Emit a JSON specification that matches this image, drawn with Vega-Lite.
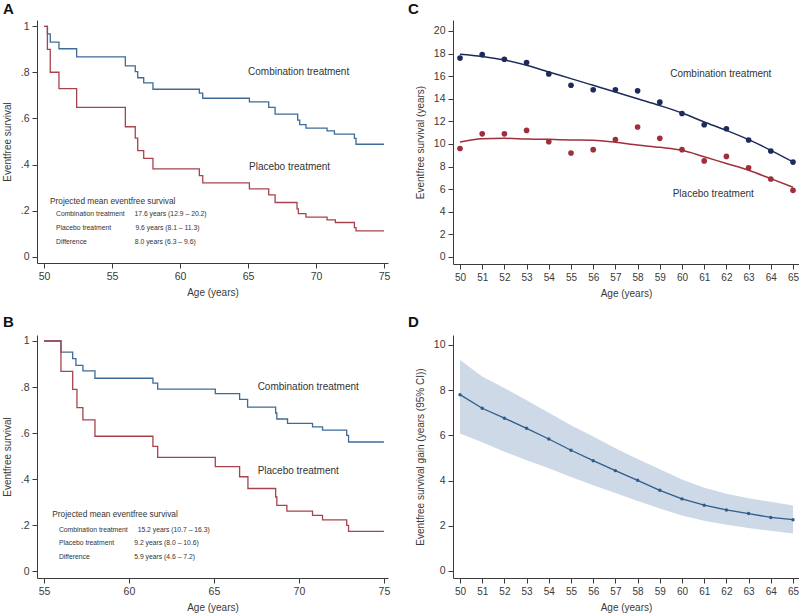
{
  "$schema": "https://vega.github.io/schema/vega-lite/v6.json",
  "background": "white",
  "padding": {"left": 2, "top": 2, "right": 0, "bottom": 0},
  "columns": 2,
  "spacing": {"row": 71, "column": 65},
  "bounds": "flush",
  "resolve": {"scale": {"color": "independent"}},
  "config": {
    "font": "Liberation Sans",
    "view": {"stroke": null},
    "axis": {"grid": false, "domainColor": "#3a3a3a", "tickColor": "#3a3a3a", "labelColor": "#3a3a3a", "titleColor": "#3a3a3a", "labelFontSize": 10.5, "titleFontSize": 10, "titleFontWeight": "normal", "tickSize": 5, "labelPadding": 3, "labelOverlap": false, "labelFont": "Liberation Sans", "titleFont": "Liberation Sans"},
    "axisY": {"titlePadding": 8},
    "axisX": {"titlePadding": 6},
    "title": {"anchor": "start", "frame": "group", "fontSize": 15, "fontWeight": "bold", "color": "#111111", "font": "Liberation Sans"}
  },
  "datasets": {
    "kmA": [
      {"age": 50, "surv": 1, "arm": "Combination"},
      {"age": 50.25, "surv": 0.968, "arm": "Combination"},
      {"age": 50.46, "surv": 0.932, "arm": "Combination"},
      {"age": 51.1, "surv": 0.903, "arm": "Combination"},
      {"age": 52.4, "surv": 0.868, "arm": "Combination"},
      {"age": 55.98, "surv": 0.829, "arm": "Combination"},
      {"age": 56.71, "surv": 0.804, "arm": "Combination"},
      {"age": 56.89, "surv": 0.777, "arm": "Combination"},
      {"age": 57.33, "surv": 0.755, "arm": "Combination"},
      {"age": 58.01, "surv": 0.727, "arm": "Combination"},
      {"age": 61.42, "surv": 0.71, "arm": "Combination"},
      {"age": 61.67, "surv": 0.688, "arm": "Combination"},
      {"age": 65.1, "surv": 0.672, "arm": "Combination"},
      {"age": 66.52, "surv": 0.648, "arm": "Combination"},
      {"age": 66.99, "surv": 0.619, "arm": "Combination"},
      {"age": 68.65, "surv": 0.593, "arm": "Combination"},
      {"age": 68.8, "surv": 0.573, "arm": "Combination"},
      {"age": 69.26, "surv": 0.558, "arm": "Combination"},
      {"age": 70.81, "surv": 0.546, "arm": "Combination"},
      {"age": 71.35, "surv": 0.532, "arm": "Combination"},
      {"age": 72.82, "surv": 0.514, "arm": "Combination"},
      {"age": 72.94, "surv": 0.488, "arm": "Combination"},
      {"age": 75, "surv": 0.488, "arm": "Combination"},
      {"age": 50, "surv": 1, "arm": "Placebo"},
      {"age": 50.25, "surv": 0.9, "arm": "Placebo"},
      {"age": 50.46, "surv": 0.801, "arm": "Placebo"},
      {"age": 51.1, "surv": 0.73, "arm": "Placebo"},
      {"age": 52.4, "surv": 0.648, "arm": "Placebo"},
      {"age": 55.98, "surv": 0.564, "arm": "Placebo"},
      {"age": 56.71, "surv": 0.515, "arm": "Placebo"},
      {"age": 56.89, "surv": 0.46, "arm": "Placebo"},
      {"age": 57.33, "surv": 0.427, "arm": "Placebo"},
      {"age": 58.01, "surv": 0.381, "arm": "Placebo"},
      {"age": 61.42, "surv": 0.352, "arm": "Placebo"},
      {"age": 61.67, "surv": 0.32, "arm": "Placebo"},
      {"age": 65.1, "surv": 0.294, "arm": "Placebo"},
      {"age": 66.52, "surv": 0.268, "arm": "Placebo"},
      {"age": 66.99, "surv": 0.235, "arm": "Placebo"},
      {"age": 68.6, "surv": 0.207, "arm": "Placebo"},
      {"age": 68.7, "surv": 0.187, "arm": "Placebo"},
      {"age": 69.26, "surv": 0.171, "arm": "Placebo"},
      {"age": 70.81, "surv": 0.159, "arm": "Placebo"},
      {"age": 71.42, "surv": 0.148, "arm": "Placebo"},
      {"age": 72.82, "surv": 0.126, "arm": "Placebo"},
      {"age": 72.94, "surv": 0.112, "arm": "Placebo"},
      {"age": 75, "surv": 0.112, "arm": "Placebo"}
    ],
    "kmB": [
      {"age": 55, "surv": 1, "arm": "Combination"},
      {"age": 56.0, "surv": 0.952, "arm": "Combination"},
      {"age": 56.69, "surv": 0.923, "arm": "Combination"},
      {"age": 56.88, "surv": 0.894, "arm": "Combination"},
      {"age": 57.29, "surv": 0.87, "arm": "Combination"},
      {"age": 58.0, "surv": 0.838, "arm": "Combination"},
      {"age": 61.41, "surv": 0.817, "arm": "Combination"},
      {"age": 61.69, "surv": 0.791, "arm": "Combination"},
      {"age": 65.08, "surv": 0.771, "arm": "Combination"},
      {"age": 66.51, "surv": 0.746, "arm": "Combination"},
      {"age": 66.98, "surv": 0.713, "arm": "Combination"},
      {"age": 68.63, "surv": 0.687, "arm": "Combination"},
      {"age": 68.7, "surv": 0.661, "arm": "Combination"},
      {"age": 69.33, "surv": 0.642, "arm": "Combination"},
      {"age": 70.8, "surv": 0.627, "arm": "Combination"},
      {"age": 71.39, "surv": 0.613, "arm": "Combination"},
      {"age": 72.81, "surv": 0.59, "arm": "Combination"},
      {"age": 72.92, "surv": 0.561, "arm": "Combination"},
      {"age": 75, "surv": 0.561, "arm": "Combination"},
      {"age": 55, "surv": 1, "arm": "Placebo"},
      {"age": 56.0, "surv": 0.868, "arm": "Placebo"},
      {"age": 56.69, "surv": 0.79, "arm": "Placebo"},
      {"age": 56.94, "surv": 0.71, "arm": "Placebo"},
      {"age": 57.29, "surv": 0.657, "arm": "Placebo"},
      {"age": 58.0, "surv": 0.586, "arm": "Placebo"},
      {"age": 61.41, "surv": 0.542, "arm": "Placebo"},
      {"age": 61.69, "surv": 0.494, "arm": "Placebo"},
      {"age": 65.08, "surv": 0.454, "arm": "Placebo"},
      {"age": 66.51, "surv": 0.41, "arm": "Placebo"},
      {"age": 67.0, "surv": 0.359, "arm": "Placebo"},
      {"age": 68.63, "surv": 0.322, "arm": "Placebo"},
      {"age": 68.7, "surv": 0.286, "arm": "Placebo"},
      {"age": 69.29, "surv": 0.261, "arm": "Placebo"},
      {"age": 70.8, "surv": 0.242, "arm": "Placebo"},
      {"age": 71.39, "surv": 0.223, "arm": "Placebo"},
      {"age": 72.81, "surv": 0.199, "arm": "Placebo"},
      {"age": 72.92, "surv": 0.173, "arm": "Placebo"},
      {"age": 75, "surv": 0.173, "arm": "Placebo"}
    ],
    "dotsC": [
      {"age": 50, "surv": 17.6, "arm": "Combination"},
      {"age": 51, "surv": 17.9, "arm": "Combination"},
      {"age": 52, "surv": 17.5, "arm": "Combination"},
      {"age": 53, "surv": 17.2, "arm": "Combination"},
      {"age": 54, "surv": 16.2, "arm": "Combination"},
      {"age": 55, "surv": 15.2, "arm": "Combination"},
      {"age": 56, "surv": 14.8, "arm": "Combination"},
      {"age": 57, "surv": 14.8, "arm": "Combination"},
      {"age": 58, "surv": 14.7, "arm": "Combination"},
      {"age": 59, "surv": 13.7, "arm": "Combination"},
      {"age": 60, "surv": 12.7, "arm": "Combination"},
      {"age": 61, "surv": 11.7, "arm": "Combination"},
      {"age": 62, "surv": 11.35, "arm": "Combination"},
      {"age": 63, "surv": 10.35, "arm": "Combination"},
      {"age": 64, "surv": 9.38, "arm": "Combination"},
      {"age": 65, "surv": 8.4, "arm": "Combination"},
      {"age": 50, "surv": 9.6, "arm": "Placebo"},
      {"age": 51, "surv": 10.9, "arm": "Placebo"},
      {"age": 52, "surv": 10.9, "arm": "Placebo"},
      {"age": 53, "surv": 11.2, "arm": "Placebo"},
      {"age": 54, "surv": 10.2, "arm": "Placebo"},
      {"age": 55, "surv": 9.2, "arm": "Placebo"},
      {"age": 56, "surv": 9.5, "arm": "Placebo"},
      {"age": 57, "surv": 10.4, "arm": "Placebo"},
      {"age": 58, "surv": 11.5, "arm": "Placebo"},
      {"age": 59, "surv": 10.5, "arm": "Placebo"},
      {"age": 60, "surv": 9.5, "arm": "Placebo"},
      {"age": 61, "surv": 8.5, "arm": "Placebo"},
      {"age": 62, "surv": 8.9, "arm": "Placebo"},
      {"age": 63, "surv": 7.9, "arm": "Placebo"},
      {"age": 64, "surv": 6.9, "arm": "Placebo"},
      {"age": 65, "surv": 5.9, "arm": "Placebo"}
    ],
    "fitC": [
      {"age": 50, "fit": 17.95, "arm": "Combination"},
      {"age": 51, "fit": 17.75, "arm": "Combination"},
      {"age": 52, "fit": 17.43, "arm": "Combination"},
      {"age": 53, "fit": 16.96, "arm": "Combination"},
      {"age": 54, "fit": 16.37, "arm": "Combination"},
      {"age": 55, "fit": 15.78, "arm": "Combination"},
      {"age": 56, "fit": 15.19, "arm": "Combination"},
      {"age": 57, "fit": 14.6, "arm": "Combination"},
      {"age": 58, "fit": 14.0, "arm": "Combination"},
      {"age": 59, "fit": 13.4, "arm": "Combination"},
      {"age": 60, "fit": 12.74, "arm": "Combination"},
      {"age": 61, "fit": 11.95, "arm": "Combination"},
      {"age": 62, "fit": 11.2, "arm": "Combination"},
      {"age": 63, "fit": 10.38, "arm": "Combination"},
      {"age": 64, "fit": 9.44, "arm": "Combination"},
      {"age": 65, "fit": 8.41, "arm": "Combination"},
      {"age": 50, "fit": 10.18, "arm": "Placebo"},
      {"age": 51, "fit": 10.47, "arm": "Placebo"},
      {"age": 52, "fit": 10.5, "arm": "Placebo"},
      {"age": 53, "fit": 10.44, "arm": "Placebo"},
      {"age": 54, "fit": 10.41, "arm": "Placebo"},
      {"age": 55, "fit": 10.36, "arm": "Placebo"},
      {"age": 56, "fit": 10.33, "arm": "Placebo"},
      {"age": 57, "fit": 10.15, "arm": "Placebo"},
      {"age": 58, "fit": 9.9, "arm": "Placebo"},
      {"age": 59, "fit": 9.7, "arm": "Placebo"},
      {"age": 60, "fit": 9.44, "arm": "Placebo"},
      {"age": 61, "fit": 8.87, "arm": "Placebo"},
      {"age": 62, "fit": 8.27, "arm": "Placebo"},
      {"age": 63, "fit": 7.68, "arm": "Placebo"},
      {"age": 64, "fit": 6.93, "arm": "Placebo"},
      {"age": 65, "fit": 6.17, "arm": "Placebo"}
    ],
    "gainD": [
      {"age": 50, "gain": 7.8, "lo": 6.08, "hi": 9.33},
      {"age": 51, "gain": 7.2, "lo": 5.7, "hi": 8.6},
      {"age": 52, "gain": 6.76, "lo": 5.28, "hi": 8.1},
      {"age": 53, "gain": 6.31, "lo": 4.9, "hi": 7.55},
      {"age": 54, "gain": 5.84, "lo": 4.54, "hi": 7.0},
      {"age": 55, "gain": 5.34, "lo": 4.16, "hi": 6.45},
      {"age": 56, "gain": 4.88, "lo": 3.79, "hi": 5.95},
      {"age": 57, "gain": 4.44, "lo": 3.45, "hi": 5.43},
      {"age": 58, "gain": 4.01, "lo": 3.1, "hi": 4.95},
      {"age": 59, "gain": 3.57, "lo": 2.77, "hi": 4.5},
      {"age": 60, "gain": 3.19, "lo": 2.45, "hi": 4.05},
      {"age": 61, "gain": 2.91, "lo": 2.22, "hi": 3.68},
      {"age": 62, "gain": 2.7, "lo": 2.05, "hi": 3.42},
      {"age": 63, "gain": 2.54, "lo": 1.9, "hi": 3.22},
      {"age": 64, "gain": 2.37, "lo": 1.78, "hi": 3.06},
      {"age": 65, "gain": 2.27, "lo": 1.66, "hi": 2.9}
    ]
  },
  "concat": [
    {
      "width": 351, "height": 243,
      "title": {"text": "A", "dx": -34, "offset": 3},
      "layer": [
        {
          "data": {"name": "kmA"},
          "mark": {"type": "line", "interpolate": "step-after", "strokeWidth": 1.3},
          "encoding": {
            "x": {"field": "age", "type": "quantitative", "scale": {"domain": [49.485, 75.29], "nice": false, "zero": false}, "axis": {"values": [50, 55, 60, 65, 70, 75], "tickCount": 6, "title": "Age (years)"}},
            "y": {"field": "surv", "type": "quantitative", "scale": {"domain": [-0.028, 1.028], "nice": false, "zero": false}, "axis": {"values": [0, 0.2, 0.4, 0.6, 0.8, 1], "tickCount": 6, "labelExpr": "replace(format(datum.value, '.1~f'), '0.', '.')", "title": "Eventfree survival"}},
            "color": {"field": "arm", "type": "nominal", "scale": {"domain": ["Combination", "Placebo"], "range": ["#3e6b97", "#a8434d"]}, "legend": null}
          }
        },
        {"data": {"values": [{}]}, "mark": {"type": "text", "align": "left", "baseline": "middle", "fontSize": 10, "color": "#333333", "text": "Combination treatment"}, "encoding": {"x": {"datum": 65.0}, "y": {"datum": 0.8}}},
        {"data": {"values": [{}]}, "mark": {"type": "text", "align": "left", "baseline": "middle", "fontSize": 10, "color": "#333333", "text": "Placebo treatment"}, "encoding": {"x": {"datum": 65.07}, "y": {"datum": 0.391}}},
        {"data": {"values": [{}]}, "mark": {"type": "text", "align": "left", "baseline": "middle", "fontSize": 8.3, "color": "#333333", "text": "Projected mean eventfree survival"}, "encoding": {"x": {"datum": 50.44}, "y": {"datum": 0.239}}},
        {"data": {"values": [{}]}, "mark": {"type": "text", "align": "left", "baseline": "middle", "fontSize": 6.8, "color": "#333333", "text": "Combination treatment"}, "encoding": {"x": {"datum": 50.88}, "y": {"datum": 0.184}}},
        {"data": {"values": [{}]}, "mark": {"type": "text", "align": "left", "baseline": "middle", "fontSize": 6.8, "color": "#333333", "text": "Placebo treatment"}, "encoding": {"x": {"datum": 50.88}, "y": {"datum": 0.123}}},
        {"data": {"values": [{}]}, "mark": {"type": "text", "align": "left", "baseline": "middle", "fontSize": 6.8, "color": "#333333", "text": "Difference"}, "encoding": {"x": {"datum": 50.88}, "y": {"datum": 0.065}}},
        {"data": {"values": [{}]}, "mark": {"type": "text", "align": "left", "baseline": "middle", "fontSize": 6.8, "color": "#333333", "text": "17.6 years (12.9 – 20.2)"}, "encoding": {"x": {"datum": 56.65}, "y": {"datum": 0.184}}},
        {"data": {"values": [{}]}, "mark": {"type": "text", "align": "left", "baseline": "middle", "fontSize": 6.8, "color": "#333333", "text": "9.6 years (8.1 – 11.3)"}, "encoding": {"x": {"datum": 56.72}, "y": {"datum": 0.123}}},
        {"data": {"values": [{}]}, "mark": {"type": "text", "align": "left", "baseline": "middle", "fontSize": 6.8, "color": "#333333", "text": "8.0 years (6.3 – 9.6)"}, "encoding": {"x": {"datum": 56.68}, "y": {"datum": 0.065}}}
      ]
    },
    {
      "width": 346, "height": 244,
      "title": {"text": "C", "dx": -45, "offset": 3},
      "layer": [
        {
          "data": {"name": "fitC"},
          "mark": {"type": "line", "interpolate": "monotone", "strokeWidth": 1.5},
          "encoding": {
            "x": {"field": "age", "type": "quantitative", "scale": {"domain": [49.685, 65.27], "nice": false, "zero": false}, "axis": {"values": [50, 51, 52, 53, 54, 55, 56, 57, 58, 59, 60, 61, 62, 63, 64, 65], "tickCount": 16, "labelOverlap": false, "labelFontSize": 10, "title": "Age (years)"}},
            "y": {"field": "fit", "type": "quantitative", "scale": {"domain": [-0.62, 20.97], "nice": false, "zero": false}, "axis": {"values": [0, 2, 4, 6, 8, 10, 12, 14, 16, 18, 20], "tickCount": 11, "labelOverlap": false, "title": "Eventfree survival (years)"}},
            "color": {"field": "arm", "type": "nominal", "scale": {"domain": ["Combination", "Placebo"], "range": ["#1d2b5c", "#9e2f3b"]}, "legend": null}
          }
        },
        {
          "data": {"name": "dotsC"},
          "mark": {"type": "circle", "size": 32, "opacity": 1},
          "encoding": {
            "x": {"field": "age", "type": "quantitative"},
            "y": {"field": "surv", "type": "quantitative"},
            "color": {"field": "arm", "type": "nominal", "legend": null}
          }
        },
        {"data": {"values": [{}]}, "mark": {"type": "text", "align": "left", "baseline": "middle", "fontSize": 10, "color": "#333333", "text": "Combination treatment"}, "encoding": {"x": {"datum": 59.47}, "y": {"datum": 16.22}}},
        {"data": {"values": [{}]}, "mark": {"type": "text", "align": "left", "baseline": "middle", "fontSize": 10, "color": "#333333", "text": "Placebo treatment"}, "encoding": {"x": {"datum": 59.58}, "y": {"datum": 5.6}}}
      ]
    },
    {
      "width": 351, "height": 243,
      "title": {"text": "B", "dx": -34, "offset": 5},
      "layer": [
        {
          "data": {"name": "kmB"},
          "mark": {"type": "line", "interpolate": "step-after", "strokeWidth": 1.3},
          "encoding": {
            "x": {"field": "age", "type": "quantitative", "scale": {"domain": [54.59, 75.24], "nice": false, "zero": false}, "axis": {"values": [55, 60, 65, 70, 75], "tickCount": 5, "title": "Age (years)"}},
            "y": {"field": "surv", "type": "quantitative", "scale": {"domain": [-0.03, 1.026], "nice": false, "zero": false}, "axis": {"values": [0, 0.2, 0.4, 0.6, 0.8, 1], "tickCount": 6, "labelExpr": "replace(format(datum.value, '.1~f'), '0.', '.')", "title": "Eventfree survival"}},
            "color": {"field": "arm", "type": "nominal", "scale": {"domain": ["Combination", "Placebo"], "range": ["#3e6b97", "#a8434d"]}, "legend": null}
          }
        },
        {"data": {"values": [{}]}, "mark": {"type": "text", "align": "left", "baseline": "middle", "fontSize": 10, "color": "#333333", "text": "Combination treatment"}, "encoding": {"x": {"datum": 67.57}, "y": {"datum": 0.8}}},
        {"data": {"values": [{}]}, "mark": {"type": "text", "align": "left", "baseline": "middle", "fontSize": 10, "color": "#333333", "text": "Placebo treatment"}, "encoding": {"x": {"datum": 67.57}, "y": {"datum": 0.433}}},
        {"data": {"values": [{}]}, "mark": {"type": "text", "align": "left", "baseline": "middle", "fontSize": 8.3, "color": "#333333", "text": "Projected mean eventfree survival"}, "encoding": {"x": {"datum": 55.49}, "y": {"datum": 0.242}}},
        {"data": {"values": [{}]}, "mark": {"type": "text", "align": "left", "baseline": "middle", "fontSize": 6.8, "color": "#333333", "text": "Combination treatment"}, "encoding": {"x": {"datum": 55.88}, "y": {"datum": 0.178}}},
        {"data": {"values": [{}]}, "mark": {"type": "text", "align": "left", "baseline": "middle", "fontSize": 6.8, "color": "#333333", "text": "Placebo treatment"}, "encoding": {"x": {"datum": 55.88}, "y": {"datum": 0.122}}},
        {"data": {"values": [{}]}, "mark": {"type": "text", "align": "left", "baseline": "middle", "fontSize": 6.8, "color": "#333333", "text": "Difference"}, "encoding": {"x": {"datum": 55.88}, "y": {"datum": 0.062}}},
        {"data": {"values": [{}]}, "mark": {"type": "text", "align": "left", "baseline": "middle", "fontSize": 6.8, "color": "#333333", "text": "15.2 years (10.7 – 16.3)"}, "encoding": {"x": {"datum": 60.51}, "y": {"datum": 0.178}}},
        {"data": {"values": [{}]}, "mark": {"type": "text", "align": "left", "baseline": "middle", "fontSize": 6.8, "color": "#333333", "text": "9.2 years (8.0 – 10.6)"}, "encoding": {"x": {"datum": 60.31}, "y": {"datum": 0.122}}},
        {"data": {"values": [{}]}, "mark": {"type": "text", "align": "left", "baseline": "middle", "fontSize": 6.8, "color": "#333333", "text": "5.9 years (4.6 – 7.2)"}, "encoding": {"x": {"datum": 60.31}, "y": {"datum": 0.062}}}
      ]
    },
    {
      "width": 346, "height": 243,
      "title": {"text": "D", "dx": -45, "offset": 5},
      "data": {"name": "gainD"},
      "layer": [
        {
          "mark": {"type": "area", "color": "#cdd9e6", "opacity": 1},
          "encoding": {
            "x": {"field": "age", "type": "quantitative", "scale": {"domain": [49.685, 65.27], "nice": false, "zero": false}, "axis": {"values": [50, 51, 52, 53, 54, 55, 56, 57, 58, 59, 60, 61, 62, 63, 64, 65], "tickCount": 16, "labelOverlap": false, "labelFontSize": 10, "title": "Age (years)"}},
            "y": {"field": "lo", "type": "quantitative", "scale": {"domain": [-0.31, 10.44], "nice": false, "zero": false}, "axis": {"values": [0, 2, 4, 6, 8, 10], "tickCount": 6, "labelOverlap": false, "title": "Eventfree survival gain (years (95% CI))"}},
            "y2": {"field": "hi"}
          }
        },
        {
          "mark": {"type": "line", "color": "#2e5d8c", "strokeWidth": 1.3, "point": {"filled": true, "size": 12, "color": "#2e5d8c"}},
          "encoding": {
            "x": {"field": "age", "type": "quantitative"},
            "y": {"field": "gain", "type": "quantitative"}
          }
        }
      ]
    }
  ]
}
